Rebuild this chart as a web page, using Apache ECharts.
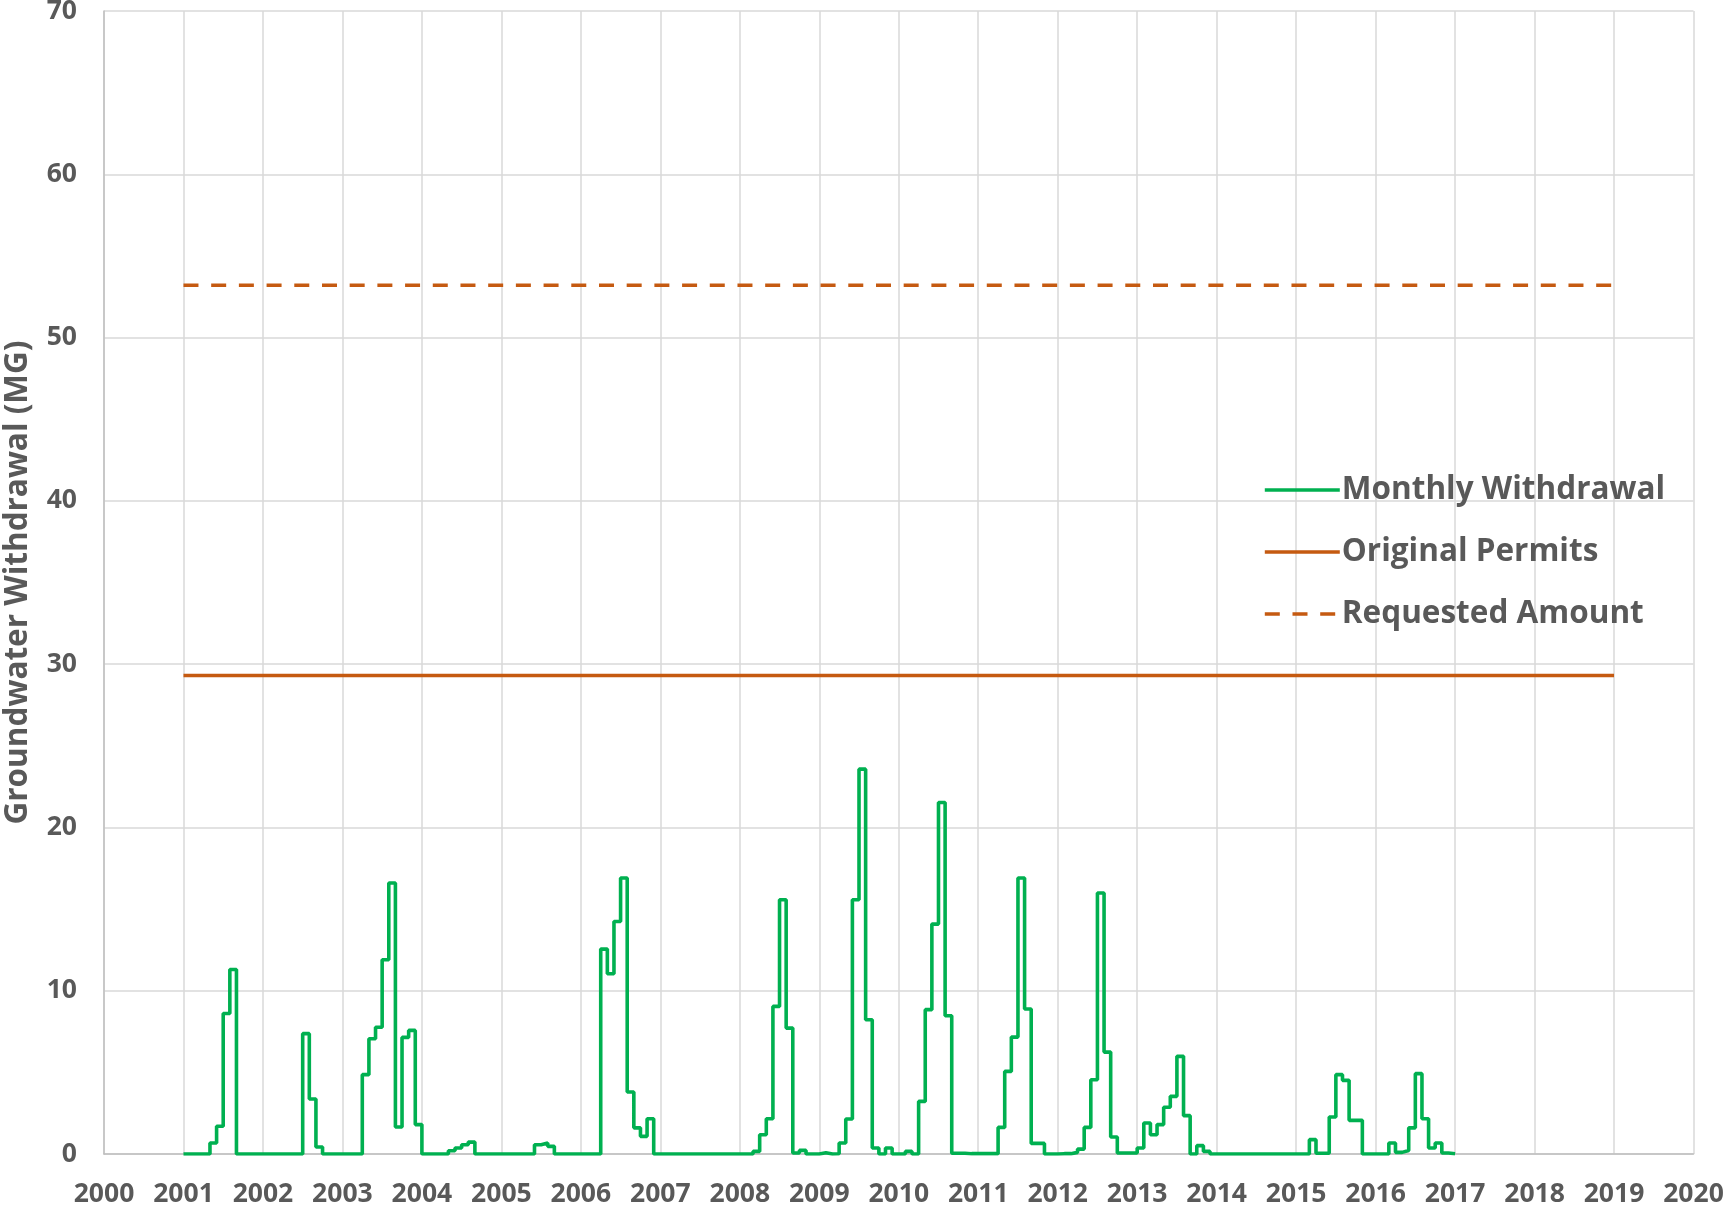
<!DOCTYPE html>
<html>
<head>
<meta charset="utf-8">
<script src="https://cdn.jsdelivr.net/npm/echarts@6/dist/echarts.min.js"></script>
<style>
html,body{margin:0;padding:0;background:#fff;}
#chart{width:1723px;height:1205px;}
</style>
</head>
<body>
<div id="chart"></div>
<script>
// Monthly withdrawal (MG), Jan..Dec of each year
const years = [2001,2002,2003,2004,2005,2006,2007,2008,2009,2010,2011,2012,2013,2014,2015,2016];
const w2001 = [0,0,0,0,0.67,1.7,8.6,11.3,0,0,0,0];
const w2002 = [0,0,0,0,0,0,7.37,3.37,0.43,0,0,0];
const w2003 = [0,0,0,4.86,7.06,7.76,11.9,16.6,1.65,7.14,7.57,1.8];
const w2004 = [0,0,0,0,0.2,0.37,0.57,0.73,0,0,0,0];
const w2005 = [0,0,0,0,0,0.57,0.67,0.47,0,0,0,0];
const w2006 = [0,0,0,12.55,11.04,14.24,16.9,3.8,1.6,1.08,2.16,0];
const w2007 = [0,0,0,0,0,0,0,0,0,0,0,0];
const w2008 = [0,0,0.16,1.18,2.16,9.04,15.57,7.71,0.06,0.22,0,0];
const w2009 = [0.08,0,0.02,0.67,2.14,15.57,23.57,8.22,0.37,0,0.37,0];
const w2010 = [0,0.16,0,3.22,8.84,14.08,21.53,8.47,0.05,0.05,0.02,0.02];
const w2011 = [0.02,0.02,0.02,1.63,5.06,7.16,16.9,8.88,0.65,0.65,0,0];
const w2012 = [0.02,0.02,0.1,0.3,1.63,4.55,15.98,6.24,1.04,0.06,0.06,0.06];
const w2013 = [0.37,1.9,1.18,1.8,2.86,3.53,5.98,2.35,0,0.51,0.16,0];
const w2014 = [0,0,0,0,0,0,0,0,0,0,0,0];
const w2015 = [0,0,0.88,0.05,0.05,2.27,4.86,4.51,2.06,2.06,0,0];
const w2016 = [0,0,0.67,0.1,0.22,1.6,4.92,2.16,0.37,0.67,0.06,0.02];
const yearlyValues = [w2001,w2002,w2003,w2004,w2005,w2006,w2007,w2008,w2009,w2010,w2011,w2012,w2013,w2014,w2015,w2016];

const permitYears = [2001, 2019];
const originalPermit = [29.3, 29.3];
const requestedAmount = [53.2, 53.2];

const seriesNames = ['Monthly Withdrawal','Original Permits','Requested Amount'];

const monthly = [];
years.forEach((y,k)=>{
  yearlyValues[k].forEach((v,m)=>monthly.push([y + m/12, v]));
});
// close the final month step
monthly.push([years[years.length-1] + 1, w2016[11]]);

const chart = echarts.init(document.getElementById('chart'), null, {renderer:'canvas'});
const labelColor = '#595959';
const fontFam = '"Open Sans", "Liberation Sans", sans-serif';
chart.setOption({
  animation:false,
  backgroundColor:'#ffffff',
  grid:{left:104, right:29.5, top:11, bottom:51, containLabel:false, outerBoundsMode:'none'},
  legend:{
    orient:'vertical',
    left:1258,
    top:469,
    itemWidth:75,
    itemHeight:14,
    itemGap:30,
    data:seriesNames,
    itemStyle:{opacity:0},
    lineStyle:{width:3.6},
    textStyle:{fontFamily:fontFam, fontWeight:'bold', fontSize:31.5, color:labelColor, padding:[0,0,0,-3]}
  },
  xAxis:{
    type:'value', min:2000, max:2020, interval:1,
    axisLine:{show:true, onZero:false, lineStyle:{color:'#BFBFBF', width:1.5}},
    axisTick:{show:false},
    splitLine:{show:true, lineStyle:{color:'#D9D9D9', width:1.5}},
    axisLabel:{margin:27, color:labelColor, fontFamily:fontFam, fontWeight:'bold', fontSize:26.5, formatter:v=>String(v)}
  },
  yAxis:{
    type:'value', min:0, max:70, interval:10,
    name:'Groundwater Withdrawal (MG)', nameLocation:'middle', nameGap:70, nameRotate:90,
    nameTextStyle:{fontFamily:fontFam, fontWeight:'bold', fontSize:31.5, color:labelColor},
    axisLine:{show:true, lineStyle:{color:'#BFBFBF', width:1.5}},
    axisTick:{show:false},
    splitLine:{show:true, lineStyle:{color:'#D9D9D9', width:1.5}},
    axisLabel:{margin:27, color:labelColor, fontFamily:fontFam, fontWeight:'bold', fontSize:26.5}
  },
  series:[
    {name:seriesNames[0], type:'line', step:'end', symbol:'none', data:monthly,
     lineStyle:{color:'#00B050', width:3.6}, itemStyle:{color:'#00B050'}, z:5},
    {name:seriesNames[1], type:'line', symbol:'none',
     data:permitYears.map((x,i)=>[x, originalPermit[i]]),
     lineStyle:{color:'#C55A11', width:3.6}, itemStyle:{color:'#C55A11'}},
    {name:seriesNames[2], type:'line', symbol:'none',
     data:permitYears.map((x,i)=>[x, requestedAmount[i]]),
     lineStyle:{color:'#C55A11', width:3.6, type:[15,12.7]}, itemStyle:{color:'#C55A11'}}
  ]
});
</script>
</body>
</html>
